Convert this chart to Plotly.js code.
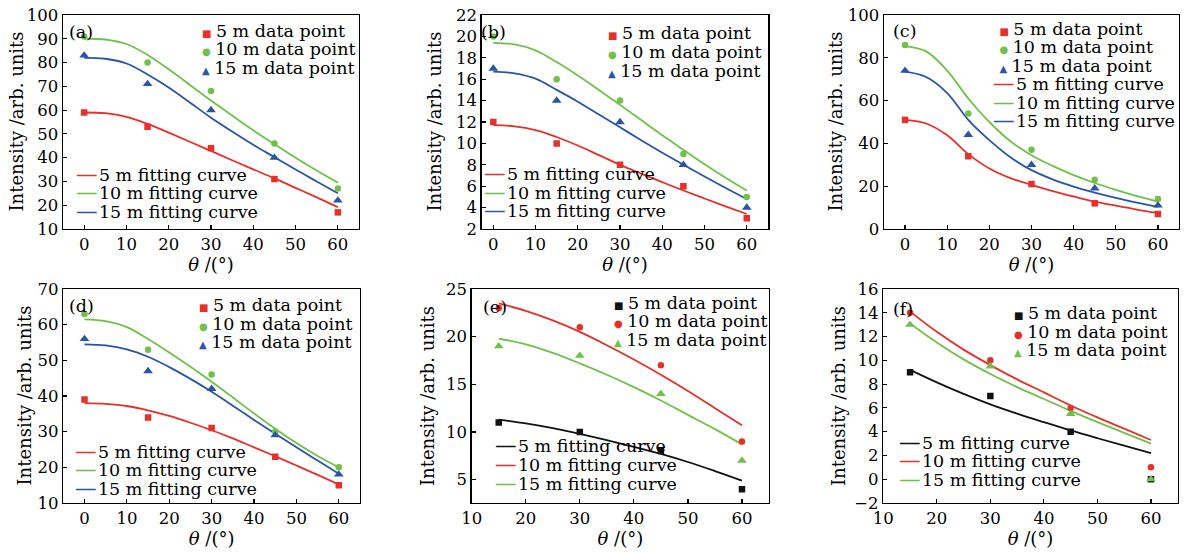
<!DOCTYPE html>
<html><head><meta charset="utf-8">
<script src="https://cdn.plot.ly/plotly-3.0.1.min.js"></script>
<style>html,body{margin:0;padding:0;background:#fff}</style>
</head><body><div id="chart" style="width:1188px;height:554px"></div>
<script>
// ================= DATA =================
const thetaPts = [0, 15, 30, 45, 60];
const thetaPtsEF = [15, 30, 45, 60];
const thetaFit = [0, 5, 10, 15, 20, 25, 30, 35, 40, 45, 50, 55, 60];
const thetaFitEF = [15, 20, 25, 30, 35, 40, 45, 50, 55, 60];

// (a)
const aPts5 = [59, 53, 44, 31, 17];
const aPts10 = [91, 80, 68, 46, 27];
const aPts15 = [83, 71, 60, 40, 22];
const aFit5 = [59, 58.7, 57.2, 54.2, 50.5, 46.7, 42.8, 38.9, 35.1, 31.3, 27.3, 23.3, 19.2];
const aFit10 = [90, 89.7, 87.8, 83.2, 77.2, 70.6, 64, 57.7, 51.5, 45.7, 40, 34.6, 29.5];
const aFit15 = [82, 81.6, 79.6, 75, 69.5, 63.2, 56.8, 51, 45.4, 40.2, 35, 30, 25];
// (b)
const bPts5 = [12, 10, 8, 6, 3];
const bPts10 = [20, 16, 14, 9, 5];
const bPts15 = [17, 14, 12, 8, 4];
const bFit5 = [11.7, 11.6, 11.25, 10.6, 9.8, 8.9, 8.0, 7.18, 6.38, 5.6, 4.85, 4.12, 3.4];
const bFit10 = [19.4, 19.25, 18.7, 17.6, 16.35, 15.0, 13.6, 12.18, 10.76, 9.4, 8.06, 6.8, 5.6];
const bFit15 = [16.7, 16.55, 16.05, 15.0, 13.9, 12.7, 11.5, 10.3, 9.13, 8.0, 6.9, 5.83, 4.8];
// (c)
const cPts5 = [51, 34, 21, 12, 7];
const cPts10 = [86, 54, 37, 23, 14];
const cPts15 = [74, 44, 30, 19, 11];
const cFit5 = [51, 49.3, 43.8, 35, 28.3, 23.8, 20.6, 17.7, 15.2, 12.8, 10.9, 9.1, 7.5];
const cFit10 = [85.5, 83, 74, 61, 50, 41, 34.5, 29.5, 25.2, 21.5, 18.3, 15.4, 12.8];
const cFit15 = [73.5, 71, 63.5, 51, 41.5, 33.5, 27.5, 23.2, 19.8, 17, 14.5, 12.3, 10.3];
// (d)
const dPts5 = [39, 34, 31, 23, 15];
const dPts10 = [63, 53, 46, 30, 20];
const dPts15 = [56, 47, 42, 29, 18];
const dFit5 = [38, 37.8, 37.2, 36, 34.4, 32.5, 30.4, 28.1, 25.6, 23.1, 20.5, 17.9, 15.2];
const dFit10 = [61.5, 61, 59.3, 56, 52.2, 48.2, 44, 39.6, 35.1, 30.8, 26.8, 23.2, 20];
const dFit15 = [54.5, 54.2, 53.1, 51, 48.1, 44.8, 41.2, 37.3, 33.3, 29.4, 25.6, 21.9, 18.2];
// (e)
const ePts5 = [11, 10, 8, 4];
const ePts10 = [23, 21, 17, 9];
const ePts15 = [19, 18, 14, 7];
const eFit5 = [11.3, 10.9, 10.4, 9.8, 9.15, 8.45, 7.7, 6.85, 5.9, 4.9];
const eFit10 = [23.5, 22.7, 21.7, 20.5, 19.1, 17.6, 16.0, 14.3, 12.5, 10.7];
const eFit15 = [19.8, 19.2, 18.3, 17.2, 16.0, 14.7, 13.3, 11.8, 10.3, 8.7];
// (f)
const fPts5 = [9, 7, 4, 0];
const fPts10 = [14, 10, 6, 1];
const fPts15 = [13, 9.5, 5.5, 0];
const fFit5 = [9.2, 8.15, 7.18, 6.3, 5.52, 4.8, 4.1, 3.45, 2.82, 2.2];
const fFit10 = [14.1, 12.4, 10.9, 9.6, 8.4, 7.3, 6.2, 5.2, 4.25, 3.3];
const fFit15 = [13.1, 11.5, 10.08, 8.85, 7.75, 6.75, 5.75, 4.8, 3.9, 3.0];

const distanceNames = ['5 m', '10 m', '15 m'];
const panelLabels = ['(a)', '(b)', '(c)', '(d)', '(e)', '(f)'];
const xTitle = '<i>θ</i> /(°)';
const yTitle = 'Intensity /arb. units';

// ================= STYLE / LAYOUT =================
const W = 1188, H = 554;
const FONT = 'DejaVu Serif, Liberation Serif, serif';
const RED = '#e6302a', GREEN = '#70c04a', BLUE = '#2a55a6', BLACK = '#111111';
const SYM = ['square', 'circle', 'triangle-up'];
const SYMSIZE = [6.5, 6.5, 8.5];
const GLYPH = ['■', '●', '▲'];
const GLYPH_FS = 10, GLYPH_ADV = 7.7;   // approx advance of key glyph (px)
const LEGFS = 17.5;

const panels = [
  {pts: [aPts5, aPts10, aPts15], fit: [aFit5, aFit10, aFit15], x: thetaPts, xf: thetaFit,
   colors: [RED, GREEN, BLUE], box: [63, 359, 15, 229], xr: [-5, 65], x0: 0, yr: [10, 100], dy: 10,
   lab: [68, 32], ytx: 15.5,
   ptLeg: {mx: 204.5, y0: 31, y1: 67.7}, fitLeg: {lx: 75, y0: 175, y1: 211.7}},
  {pts: [bPts5, bPts10, bPts15], fit: [bFit5, bFit10, bFit15], x: thetaPts, xf: thetaFit,
   colors: [RED, GREEN, BLUE], box: [481.7, 768.3, 15, 229], xr: [-2.75, 65.1], x0: 0, yr: [2, 22], dy: 2,
   lab: [480, 32], ytx: 433.5,
   ptLeg: {mx: 610.7, y0: 33.3, y1: 71}, fitLeg: {lx: 483, y0: 173.3, y1: 210.7}},
  {pts: [cPts5, cPts10, cPts15], fit: [cFit5, cFit10, cFit15], x: thetaPts, xf: thetaFit,
   colors: [RED, GREEN, BLUE], box: [884, 1179, 15, 229], xr: [-5, 65], x0: 0, yr: [0, 100], dy: 20,
   lab: [892, 31], ytx: 834.5,
   merged: {lx: 991.7, mx: 1001, y0: 29.3, y1: 121.7}},
  {pts: [dPts5, dPts10, dPts15], fit: [dFit5, dFit10, dFit15], x: thetaPts, xf: thetaFit,
   colors: [RED, GREEN, BLUE], box: [63.3, 360, 289, 503], xr: [-5, 65], x0: 0, yr: [10, 70], dy: 10,
   lab: [68, 306], ytx: 23.5,
   ptLeg: {mx: 202.3, y0: 305, y1: 342.3}, fitLeg: {lx: 74, y0: 451.7, y1: 488.3}},
  {pts: [ePts5, ePts10, ePts15], fit: [eFit5, eFit10, eFit15], x: thetaPtsEF, xf: thetaFitEF,
   colors: [BLACK, RED, GREEN], box: [471.7, 769, 289, 503], xr: [10, 65], x0: 10, yr: [2.55, 25], dy: 5,
   lab: [482, 307], ytx: 427,
   ptLeg: {mx: 617.3, y0: 303.3, y1: 340}, fitLeg: {lx: 494.3, y0: 445.7, y1: 483.3}},
  {pts: [fPts5, fPts10, fPts15], fit: [fFit5, fFit10, fFit15], x: thetaPtsEF, xf: thetaFitEF,
   colors: [BLACK, RED, GREEN], box: [883.3, 1177.7, 289, 503], xr: [10, 65], x0: 10, yr: [-2, 16], dy: 2,
   lab: [892, 308.7], ytx: 838,
   ptLeg: {mx: 1016.7, y0: 313, y1: 350}, fitLeg: {lx: 898.3, y0: 443.3, y1: 480}}
];

const px = v => v / W;
const py = v => 1 - v / H;

const traces = [];
const layout = {
  width: W, height: H, margin: {l: 0, r: 0, t: 0, b: 0},
  paper_bgcolor: '#fff', plot_bgcolor: '#fff', showlegend: false,
  font: {family: FONT, size: 17, color: '#000'},
  annotations: []
};

// legend row builders (keys are coloured glyphs, text is plain)
const nbsp = w => `<span style="font-size:${(w / 0.318).toFixed(2)}px">\u00A0</span>`;
const ptRow = (k, c, lead) =>
  (lead ? nbsp(lead) : '') +
  `<span style="font-family:DejaVu Sans;font-size:${GLYPH_FS}px;color:${c}">${GLYPH[k]}</span>` +
  `<span style="font-size:14px"> </span><span style="font-size:${LEGFS}px">${distanceNames[k]} data point</span>`;
const fitRow = (k, c) =>
  `<span style="font-family:DejaVu Sans Mono;font-size:16px;color:${c}">──</span>` + nbsp(2.6) +
  `<span style="font-size:${LEGFS}px">${distanceNames[k]} fitting curve</span>`;

function legendAnn(xLeft, y0, y1, rows) {
  const spacing = (y1 - y0) / (rows.length - 1);
  return {xref: 'paper', yref: 'paper', x: px(xLeft), y: py((y0 + y1) / 2),
    xanchor: 'left', yanchor: 'middle', align: 'left', borderpad: 0, showarrow: false,
    text: rows.join('<br>'), font: {family: FONT, size: spacing / 1.3, color: '#000'}};
}

panels.forEach((p, i) => {
  const n = i + 1;
  const xa = 'x' + (n === 1 ? '' : n), ya = 'y' + (n === 1 ? '' : n);
  const axCommon = {
    showgrid: false, zeroline: false, showline: true, linecolor: '#000', linewidth: 1.4, mirror: true,
    ticks: 'inside', ticklen: 4, tickwidth: 1.2, tickcolor: '#000',
    tickfont: {family: FONT, size: 16.5, color: '#000'}, fixedrange: true
  };
  layout['xaxis' + (n === 1 ? '' : n)] = Object.assign({}, axCommon, {
    domain: [px(p.box[0]), px(p.box[1])], range: p.xr, tick0: p.x0, dtick: 10, anchor: ya,
    title: {text: xTitle, font: {family: FONT, size: 18, color: '#000'}, standoff: 4}
  });
  layout['yaxis' + (n === 1 ? '' : n)] = Object.assign({}, axCommon, {
    domain: [py(p.box[3]), py(p.box[2])], range: p.yr, tick0: 0, dtick: p.dy, anchor: xa
  });
  // y-axis title
  layout.annotations.push({xref: 'paper', yref: 'paper', x: px(p.ytx), y: py((p.box[2] + p.box[3]) / 2),
    xanchor: 'center', yanchor: 'middle', textangle: -90, showarrow: false, borderpad: 0,
    text: yTitle, font: {family: FONT, size: 18, color: '#000'}});
  // fitting curves
  p.fit.forEach((f, k) => {
    traces.push({type: 'scatter', mode: 'lines', x: p.xf, y: f, xaxis: xa, yaxis: ya,
      name: distanceNames[k] + ' fitting curve', line: {color: p.colors[k], width: 1.8, shape: 'spline', smoothing: 1}});
  });
  // data points
  p.pts.forEach((d, k) => {
    traces.push({type: 'scatter', mode: 'markers', x: p.x, y: d, xaxis: xa, yaxis: ya,
      name: distanceNames[k] + ' data point', marker: {color: p.colors[k], symbol: SYM[k], size: SYMSIZE[k]}});
  });
  // panel label
  layout.annotations.push({xref: 'paper', yref: 'paper', x: px(p.lab[0]), y: py(p.lab[1]), xanchor: 'left', yanchor: 'middle',
    text: panelLabels[i], showarrow: false, borderpad: 0, font: {family: FONT, size: LEGFS, color: '#000'}});
  // legends
  if (p.merged) {
    const m = p.merged;
    const lead = m.mx - m.lx - GLYPH_ADV / 2;
    const rows = p.colors.map((c, k) => ptRow(k, c, lead)).concat(p.colors.map((c, k) => fitRow(k, c)));
    layout.annotations.push(legendAnn(m.lx, m.y0, m.y1, rows));
  } else {
    layout.annotations.push(legendAnn(p.ptLeg.mx - GLYPH_ADV / 2, p.ptLeg.y0, p.ptLeg.y1,
      p.colors.map((c, k) => ptRow(k, c, 0))));
    layout.annotations.push(legendAnn(p.fitLeg.lx, p.fitLeg.y0, p.fitLeg.y1,
      p.colors.map((c, k) => fitRow(k, c))));
  }
});

Plotly.newPlot('chart', traces, layout, {displayModeBar: false, staticPlot: true});
</script></body></html>
